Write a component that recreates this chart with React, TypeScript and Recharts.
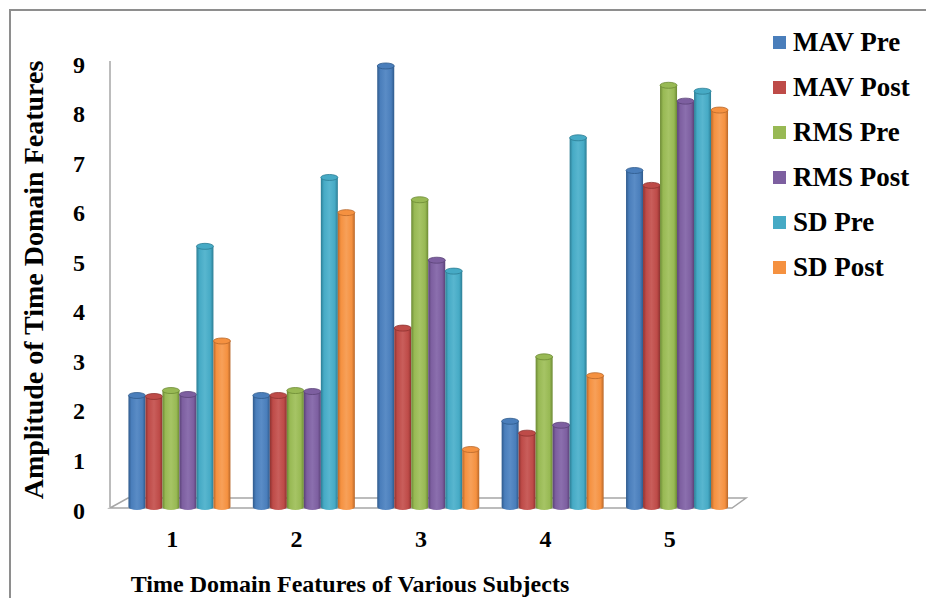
import React from 'react';
import { BarChart, Bar, XAxis, YAxis } from 'recharts';

const subjects = ['1', '2', '3', '4', '5'];
const mavPre = [2.25, 2.25, 8.9, 1.73, 6.79];
const mavPost = [2.23, 2.25, 3.61, 1.49, 6.49];
const rmsPre = [2.35, 2.35, 6.2, 3.03, 8.51];
const rmsPost = [2.27, 2.33, 4.98, 1.65, 8.19];
const sdPre = [5.26, 6.65, 4.76, 7.45, 8.39];
const sdPost = [3.35, 5.94, 1.16, 2.65, 8.01];
const yTicks = [0, 1, 2, 3, 4, 5, 6, 7, 8, 9];

const series = [
  { key: 'MAV Pre', values: mavPre, base: '#4A7EBB', dark: '#2F5A8C', light: '#5A8CC6' },
  { key: 'MAV Post', values: mavPost, base: '#BE4B48', dark: '#8E3230', light: '#C95E5B' },
  { key: 'RMS Pre', values: rmsPre, base: '#98B954', dark: '#6C8A34', light: '#A6C465' },
  { key: 'RMS Post', values: rmsPost, base: '#7D5FA0', dark: '#5A4277', light: '#8B6FAE' },
  { key: 'SD Pre', values: sdPre, base: '#46AAC5', dark: '#2C7D94', light: '#58B6CF' },
  { key: 'SD Post', values: sdPost, base: '#F59140', dark: '#B8672A', light: '#F7A059' },
];

const data = subjects.map((s, i) => {
  const row: Record<string, string | number> = { name: s };
  series.forEach((ser) => { row[ser.key] = ser.values[i]; });
  return row;
});

const FONT = '"Liberation Serif", "Times New Roman", serif';

const gradId = (i: number) => `cyl-${i}`;

const Cylinder = (props: any) => {
  const { x, y, width, height, si } = props;
  if (width == null || height == null) return null;
  const s = series[si];
  const rx = width / 2;
  const ry = 3;
  const bottom = y + height;
  return (
    <g>
      <path
        d={`M${x},${y} L${x},${bottom} A${rx},${ry} 0 0 0 ${x + width},${bottom} L${x + width},${y} Z`}
        fill={`url(#${gradId(si)})`}
      />
      <ellipse cx={x + rx} cy={y} rx={rx} ry={ry} fill={s.base} stroke={s.dark} strokeWidth={0.8} />
    </g>
  );
};

// legend drawn by hand so it keeps series order and doesn't steal plot space
const SeriesLegend = () => (
  <div style={{ position: 'absolute', left: 773, top: 20, fontFamily: FONT, fontWeight: 700, fontSize: 27, color: '#000' }}>
    {series.map((s) => (
      <div key={s.key} style={{ height: 45, display: 'flex', alignItems: 'center', whiteSpace: 'nowrap' }}>
        <span style={{ display: 'inline-block', width: 13, height: 13, background: s.base, marginRight: 7 }} />
        <span>{s.key}</span>
      </div>
    ))}
  </div>
);

const App: React.FC = () => {
  return (
    <div style={{ position: 'absolute', left: 0, top: 0, width: 926, height: 598, overflow: 'hidden', background: '#fff' }}>
      {/* outer frame, cut off on right and bottom */}
      <div style={{ position: 'absolute', left: 9, top: 9, width: 940, height: 620, borderLeft: '2px solid #8e8e8e', borderTop: '2px solid #8e8e8e' }} />

      {/* 3D floor */}
      <svg width={926} height={598} style={{ position: 'absolute', left: 0, top: 0 }}>
        <polygon points="110,508 128,498 746,498 732,508" fill="none" stroke="#a6a6a6" strokeWidth={1.5} />
      </svg>

      <div style={{ position: 'absolute', left: 0, top: 0 }}>
        <BarChart
          width={926}
          height={598}
          data={data}
          margin={{ top: 61, right: 188, bottom: 61, left: 0 }}
          barGap={0}
          barCategoryGap="10%"
        >
          <defs>
            {series.map((s, i) => (
              <linearGradient key={s.key} id={gradId(i)} x1="0" y1="0" x2="1" y2="0">
                <stop offset="0%" stopColor={s.dark} />
                <stop offset="18%" stopColor={s.base} />
                <stop offset="50%" stopColor={s.light} />
                <stop offset="82%" stopColor={s.base} />
                <stop offset="100%" stopColor={s.dark} />
              </linearGradient>
            ))}
          </defs>
          <XAxis
            dataKey="name"
            height={30}
            padding={{ left: 6, right: 0 }}
            axisLine={false}
            tickLine={false}
            tickSize={0}
            tickMargin={23}
            tick={{ fill: '#000', fontFamily: FONT, fontWeight: 700, fontSize: 24, dx: -6 }}
          />
          <YAxis
            width={110}
            domain={[0, 9]}
            ticks={yTicks}
            interval={0}
            axisLine={{ stroke: '#a6a6a6', strokeWidth: 1.5 }}
            tickLine={false}
            tickSize={0}
            tickMargin={25}
            tick={{ fill: '#000', fontFamily: FONT, fontWeight: 700, fontSize: 24, dy: 3 }}
          />
          {series.map((s, i) => (
            <Bar
              key={s.key}
              dataKey={s.key}
              fill={s.base}
              isAnimationActive={false}
              shape={(p: any) => <Cylinder {...p} si={i} />}
            />
          ))}
        </BarChart>
      </div>

      <SeriesLegend />

      {/* axis titles */}
      <svg width={926} height={598} style={{ position: 'absolute', left: 0, top: 0, pointerEvents: 'none' }}>
        <text
          transform="translate(43,280) rotate(-90)"
          textAnchor="middle"
          fontFamily={FONT}
          fontWeight={700}
          fontSize={28}
          fill="#000"
        >
          Amplitude of Time Domain Features
        </text>
        <text x={350} y={592} textAnchor="middle" fontFamily={FONT} fontWeight={700} fontSize={24} fill="#000">
          Time Domain Features of Various Subjects
        </text>
      </svg>
    </div>
  );
};

export default App;
